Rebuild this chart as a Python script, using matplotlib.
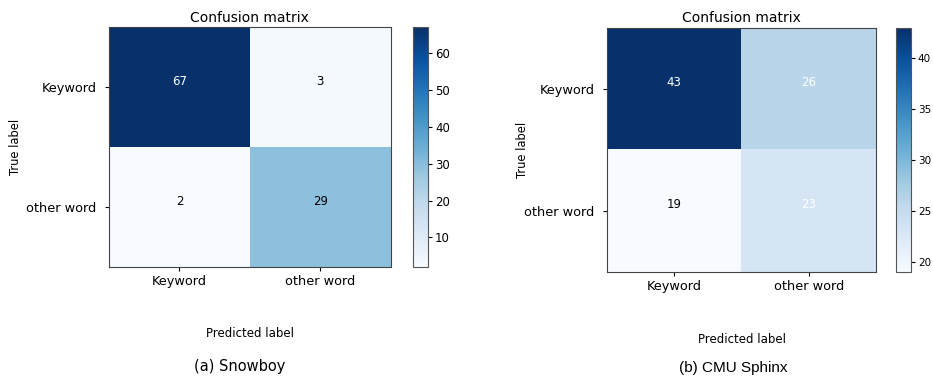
import numpy as np
import matplotlib
matplotlib.use('Agg')
import matplotlib.pyplot as plt

classes = ['Keyword', 'other word']
cm_snowboy = np.array([[67, 3],
                       [2, 29]])
cm_sphinx = np.array([[43, 26],
                      [19, 23]])
captions = ['(a) Snowboy', '(b) CMU Sphinx']


def plot_cm(fig, ax, cax, cm, ylab_x, cb_size):
    im = ax.imshow(cm, interpolation='nearest', cmap=plt.cm.Blues, aspect='auto')
    ax.set_title('Confusion matrix', fontsize=10, pad=4)
    cb = fig.colorbar(im, cax=cax)
    cb.ax.tick_params(labelsize=cb_size, length=3, pad=2)
    cb.outline.set_edgecolor('#555555')
    ticks = np.arange(len(classes))
    ax.set_xticks(ticks)
    ax.set_xticklabels(classes, fontsize=9.3)
    ax.set_yticks(ticks)
    ax.set_yticklabels(classes, fontsize=9.3)
    ax.tick_params(axis='x', length=3, pad=3)
    ax.tick_params(axis='y', length=3, pad=6)
    thresh = cm.max() / 2.
    for i in range(cm.shape[0]):
        for j in range(cm.shape[1]):
            ax.text(j, i - 0.05, format(cm[i, j], 'd'), ha='center', va='center',
                    fontsize=8.5, color='white' if cm[i, j] > thresh else 'black')
    ax.set_ylabel('True label', fontsize=8.3)
    ax.set_xlabel('Predicted label', fontsize=8.5)
    ax.xaxis.set_label_coords(0.5, -0.25)
    ax.yaxis.set_label_coords(ylab_x, 0.5)
    for s in ax.spines.values():
        s.set_edgecolor('#444444')


fig = plt.figure(figsize=(9.33, 3.79), dpi=100)

ax1 = fig.add_axes([0.1168, 0.2955, 0.302, 0.633])
cax1 = fig.add_axes([0.4427, 0.2955, 0.016, 0.633])
plot_cm(fig, ax1, cax1, cm_snowboy, -0.31, 8.5)

ax2 = fig.add_axes([0.6506, 0.2823, 0.2883, 0.644])
cax2 = fig.add_axes([0.9604, 0.2823, 0.016, 0.644])
plot_cm(fig, ax2, cax2, cm_sphinx, -0.29, 7.5)

fig.text(240 / 933, 1 - 366 / 379, captions[0], ha='center', va='center', fontsize=10.5)
fig.text(733 / 933, 1 - 368 / 379, captions[1], ha='center', va='center', fontsize=11,
         family='Liberation Sans')

fig.savefig('out.png', dpi=100)
